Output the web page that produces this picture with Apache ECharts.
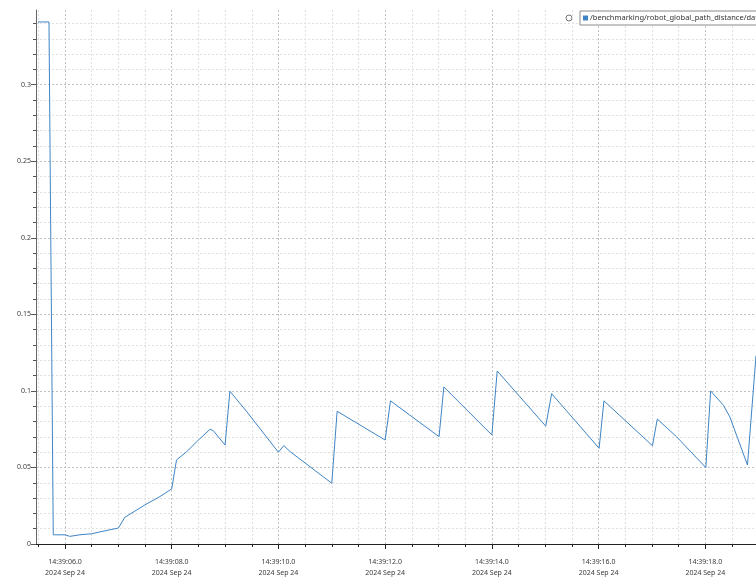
<!DOCTYPE html>
<html>
<head>
<meta charset="utf-8">
<script src="https://cdn.jsdelivr.net/npm/echarts@6/dist/echarts.min.js"></script>
<style>
  html, body { margin: 0; padding: 0; background: #fff; }
  #chart { width: 756px; height: 578px; }
</style>
</head>
<body>
<div id="chart"></div>
<script>
const seriesName = '/benchmarking/robot_global_path_distance/data';

// seconds after 14:39:00, 2024 Sep 24
const times = [
  5.49, 5.70, 5.78, 6.00, 6.09, 6.28, 6.50, 6.84, 7.00, 7.12,
  7.50, 7.78, 8.00, 8.09, 8.28, 8.50, 8.72, 8.78, 9.00, 9.09,
  9.41, 10.00, 10.10, 10.22, 11.00, 11.10, 12.00, 12.10, 13.01, 13.10,
  14.00, 14.10, 15.01, 15.12, 16.01, 16.10, 17.01, 17.10, 17.46, 18.01,
  18.10, 18.34, 18.46, 18.79, 18.95
];
const distances = [
  0.341, 0.341, 0.006, 0.006, 0.005, 0.006, 0.0067, 0.0093, 0.0104, 0.0174,
  0.0256, 0.031, 0.036, 0.0549, 0.0603, 0.0679, 0.075, 0.074, 0.0646, 0.0998,
  0.0863, 0.0599, 0.0643, 0.0603, 0.0397, 0.0867, 0.0679, 0.0935, 0.0701, 0.1026,
  0.0712, 0.113, 0.077, 0.0982, 0.0625, 0.0935, 0.0642, 0.0816, 0.0701, 0.0499,
  0.1, 0.0906, 0.083, 0.0516, 0.123
];

const xMajorTicks = [6, 8, 10, 12, 14, 16, 18];
const xMinorTicks = [5.5, 6.5, 7, 7.5, 8.5, 9, 9.5, 10.5, 11, 11.5, 12.5, 13, 13.5,
  14.5, 15, 15.5, 16.5, 17, 17.5, 18.5];
const yMajorTicks = [0, 0.05, 0.1, 0.15, 0.2, 0.25, 0.3];
const yMinorTicks = [0.01, 0.02, 0.03, 0.04, 0.06, 0.07, 0.08, 0.09, 0.11, 0.12, 0.13, 0.14,
  0.16, 0.17, 0.18, 0.19, 0.21, 0.22, 0.23, 0.24, 0.26, 0.27, 0.28, 0.29, 0.31, 0.32, 0.33, 0.34];

const xMin = 5.4565;
const xMax = 18.95;
const yMin = 0;
const yMax = 0.3488;

const labelFont = { fontFamily: 'Noto Sans', fontSize: 7, color: '#3a3a3a' };
const majorGrid = { lineStyle: { color: '#c2c2c2', type: [2, 2], width: 1 } };
const minorGrid = { lineStyle: { color: '#e0e0e0', type: [2, 2], width: 1 } };

function timeLabel(v) {
  const s = v.toFixed(1);
  return '14:39:' + (v < 10 ? '0' + s : s) + '\n2024 Sep 24';
}

const chart = echarts.init(document.getElementById('chart'), null, { renderer: 'canvas' });

chart.setOption({
  animation: false,
  backgroundColor: '#fff',
  grid: { left: 36, right: 0, top: 10, bottom: 32 },
  legend: {
    left: 580,
    top: 11,
    icon: 'rect',
    itemWidth: 5,
    itemHeight: 5,
    itemGap: 2,
    padding: [3, 4, 3, 3],
    borderColor: '#8a8a8a',
    borderWidth: 1,
    backgroundColor: '#fff',
    textStyle: { fontFamily: 'Noto Sans', fontSize: 7.5, color: '#333', padding: [0, 0, 0, -3] },
    data: [seriesName]
  },
  graphic: [{
    type: 'circle',
    shape: { cx: 569, cy: 18, r: 3 },
    style: { fill: '#fff', stroke: '#777', lineWidth: 1 }
  }],
  xAxis: [
    {
      type: 'value',
      min: xMin,
      max: xMax,
      position: 'bottom',
      offset: 7,
      axisLine: { show: true, lineStyle: { color: '#222', width: 1 } },
      axisTick: { show: true, customValues: xMajorTicks, length: 5, lineStyle: { color: '#222' } },
      axisLabel: Object.assign({ customValues: xMajorTicks, margin: 5, lineHeight: 11, formatter: timeLabel }, labelFont),
      splitLine: Object.assign({ show: true }, majorGrid)
    },
    {
      type: 'value',
      min: xMin,
      max: xMax,
      position: 'bottom',
      offset: 7,
      axisLine: { show: false },
      axisTick: { show: true, customValues: xMinorTicks, length: 3, lineStyle: { color: '#222' } },
      axisLabel: { show: false, customValues: xMinorTicks },
      splitLine: Object.assign({ show: true }, minorGrid)
    }
  ],
  yAxis: [
    {
      type: 'value',
      min: yMin,
      max: yMax,
      position: 'left',
      axisLine: { show: true, lineStyle: { color: '#666', width: 1 } },
      axisTick: { show: true, customValues: yMajorTicks, length: 5, lineStyle: { color: '#555' } },
      axisLabel: Object.assign({ customValues: yMajorTicks, margin: 5 }, labelFont),
      splitLine: Object.assign({ show: true }, majorGrid)
    },
    {
      type: 'value',
      min: yMin,
      max: yMax,
      position: 'left',
      axisLine: { show: false },
      axisTick: { show: true, customValues: yMinorTicks, length: 3, lineStyle: { color: '#555' } },
      axisLabel: { show: false, customValues: yMinorTicks },
      splitLine: Object.assign({ show: true }, minorGrid)
    }
  ],
  series: [
    {
      name: seriesName,
      type: 'line',
      xAxisIndex: 0,
      yAxisIndex: 0,
      data: times.map((t, i) => [t, distances[i]]),
      showSymbol: false,
      clip: true,
      itemStyle: { color: '#3f84c4' },
      lineStyle: { color: '#3f84c4', width: 1 }
    }
  ]
});
</script>
</body>
</html>
